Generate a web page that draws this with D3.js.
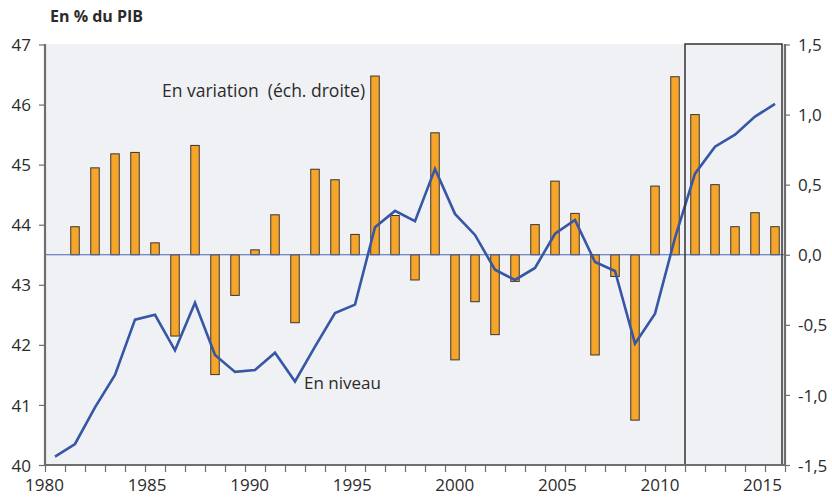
<!DOCTYPE html>
<html>
<head>
<meta charset="utf-8">
<script src="https://cdn.jsdelivr.net/npm/d3@7"></script>
<style>
  body { margin: 0; background: #fff; }
  svg text { font-family: "Open Sans", "Noto Sans", sans-serif; fill: #2b2b2b; }
</style>
</head>
<body>
<div id="chart"></div>
<script>
// years of the level series (left axis)
var years = [1980, 1981, 1982, 1983, 1984, 1985, 1986, 1987, 1988, 1989,
             1990, 1991, 1992, 1993, 1994, 1995, 1996, 1997, 1998, 1999,
             2000, 2001, 2002, 2003, 2004, 2005, 2006, 2007, 2008, 2009,
             2010, 2011, 2012, 2013, 2014, 2015, 2016];

// "En niveau" - % du PIB
var niveau = [40.14, 40.35, 40.96, 41.50, 42.42, 42.50, 41.91, 42.70, 41.83, 41.55,
              41.58, 41.87, 41.39, 41.97, 42.53, 42.67, 43.96, 44.23, 44.06, 44.93,
              44.18, 43.83, 43.25, 43.08, 43.28, 43.85, 44.08, 43.38, 43.23, 42.02,
              42.52, 43.78, 44.85, 45.30, 45.50, 45.80, 46.01];

// "En variation" (right axis), from 1981
var varYears = years.slice(1);
var variation = [0.20, 0.62, 0.72, 0.73, 0.085, -0.58, 0.78, -0.855, -0.29,
                 0.035, 0.285, -0.485, 0.61, 0.535, 0.145, 1.275, 0.28, -0.18, 0.87,
                 -0.75, -0.335, -0.57, -0.19, 0.215, 0.525, 0.295, -0.715, -0.155, -1.18,
                 0.49, 1.27, 1.0, 0.50, 0.20, 0.30, 0.20];

var leftTicks = [40, 41, 42, 43, 44, 45, 46, 47];
var rightTicks = [-1.5, -1, -0.5, 0, 0.5, 1, 1.5];
var yearLabels = [1980, 1985, 1990, 1995, 2000, 2005, 2010, 2015];
var boxStart = 2011.5; // framed period

var svgWidth = 832, svgHeight = 497;
var margin = {top: 44, right: 47, bottom: 32, left: 45};
var chartWidth = svgWidth - margin.left - margin.right;
var chartHeight = svgHeight - margin.top - margin.bottom;

var svg = d3.select("#chart")
  .append("svg")
  .attr("width", svgWidth)
  .attr("height", svgHeight);

var chartGroup = svg.append("g")
  .attr("transform", `translate(${margin.left}, ${margin.top})`);

// scales
var x = d3.scaleLinear()
  .domain([1979.5, 2016.5])
  .range([0, chartWidth]);

// year labels are spread a bit wider than the ticks in the original
var xLab = d3.scaleLinear()
  .domain([1980, 2015])
  .range([-1, 717]);

var yLeft = d3.scaleLinear()
  .domain([40, 47])
  .range([chartHeight, 0.5]);

var yRight = d3.scaleLinear()
  .domain([-1.5, 1.5])
  .range([chartHeight, 0.5]);

// background
chartGroup.append("rect")
  .attr("width", chartWidth)
  .attr("height", chartHeight)
  .style("fill", "#f0f1f4");

// bars
var barW = 8.5;
chartGroup.selectAll(".bar")
  .data(variation)
  .enter()
  .append("rect")
  .attr("class", "bar")
  .attr("x", (d, i) => x(varYears[i]) - barW / 2)
  .attr("y", d => yRight(Math.max(0, d)))
  .attr("width", barW)
  .attr("height", d => Math.abs(yRight(d) - yRight(0)))
  .style("fill", "#f5a52a")
  .style("stroke", "#3a3530")
  .style("stroke-width", 1);

// zero line
chartGroup.append("line")
  .attr("x1", 0)
  .attr("x2", chartWidth)
  .attr("y1", yRight(0))
  .attr("y2", yRight(0))
  .style("stroke", "#4a68b0")
  .style("stroke-width", 1.2);

// level line
var line = d3.line()
  .x((d, i) => x(years[i]))
  .y(d => yLeft(d));

chartGroup.append("path")
  .datum(niveau)
  .attr("d", line)
  .style("fill", "none")
  .style("stroke", "#3656a6")
  .style("stroke-width", 2.6)
  .style("stroke-linejoin", "miter");

// framed period
chartGroup.append("rect")
  .attr("x", x(boxStart))
  .attr("y", 0)
  .attr("width", chartWidth - 3 - x(boxStart))
  .attr("height", chartHeight)
  .style("fill", "none")
  .style("stroke", "#333")
  .style("stroke-width", 1.5);

// axes
var axisColor = "#6e6e6e";

var leftAxis = d3.axisLeft(yLeft)
  .tickValues(leftTicks)
  .tickSize(6)
  .tickPadding(8)
  .tickFormat(d3.format("d"));

var rightAxis = d3.axisRight(yRight)
  .tickValues(rightTicks)
  .tickSize(5)
  .tickPadding(8)
  .tickFormat(d => d3.format(".1f")(d).replace(".", ",").replace("−", "-"));

var tickAxis = d3.axisBottom(x)
  .tickValues(years.map(d => d - 0.5).concat([2016.5]))
  .tickSize(7)
  .tickFormat("");

var labelAxis = d3.axisBottom(xLab)
  .tickValues(yearLabels)
  .tickSize(0)
  .tickPadding(14)
  .tickFormat(d3.format("d"));

var gL = chartGroup.append("g").call(leftAxis);
var gR = chartGroup.append("g")
  .attr("transform", `translate(${chartWidth}, 0)`)
  .call(rightAxis);
var gB = chartGroup.append("g")
  .attr("transform", `translate(0, ${chartHeight})`)
  .call(tickAxis);
var gBL = chartGroup.append("g")
  .attr("transform", `translate(0, ${chartHeight})`)
  .call(labelAxis);
gBL.select(".domain").remove();

[gL, gR, gB].forEach(function(g) {
  g.select(".domain")
    .attr("d", null);
  g.selectAll(".tick line")
    .style("stroke", axisColor)
    .style("stroke-width", 1.2);
});
[gL, gR, gBL].forEach(function(g) {
  g.selectAll("text")
    .style("font-size", "17px")
    .style("fill", "#2b2b2b");
});
gL.selectAll("text").attr("dy", "0.36em");
gR.selectAll("text").attr("dy", "0.36em");

// axis lines drawn as a frame on three sides
chartGroup.append("path")
  .attr("d", `M0,0 V${chartHeight} H${chartWidth} V0`)
  .style("fill", "none")
  .style("stroke", axisColor)
  .style("stroke-width", 2.2);

// titles / labels
svg.append("text")
  .attr("x", 50)
  .attr("y", 22)
  .style("font-size", "16px")
  .style("font-weight", "bold")
  .text("En % du PIB");

chartGroup.append("text")
  .attr("x", 162 - margin.left)
  .attr("y", 97 - margin.top)
  .style("font-size", "17.5px")
  .style("white-space", "pre")
  .text("En variation  (éch. droite)");

chartGroup.append("text")
  .attr("x", 304 - margin.left)
  .attr("y", 389 - margin.top)
  .style("font-size", "17px")
  .text("En niveau");
</script>
</body>
</html>
